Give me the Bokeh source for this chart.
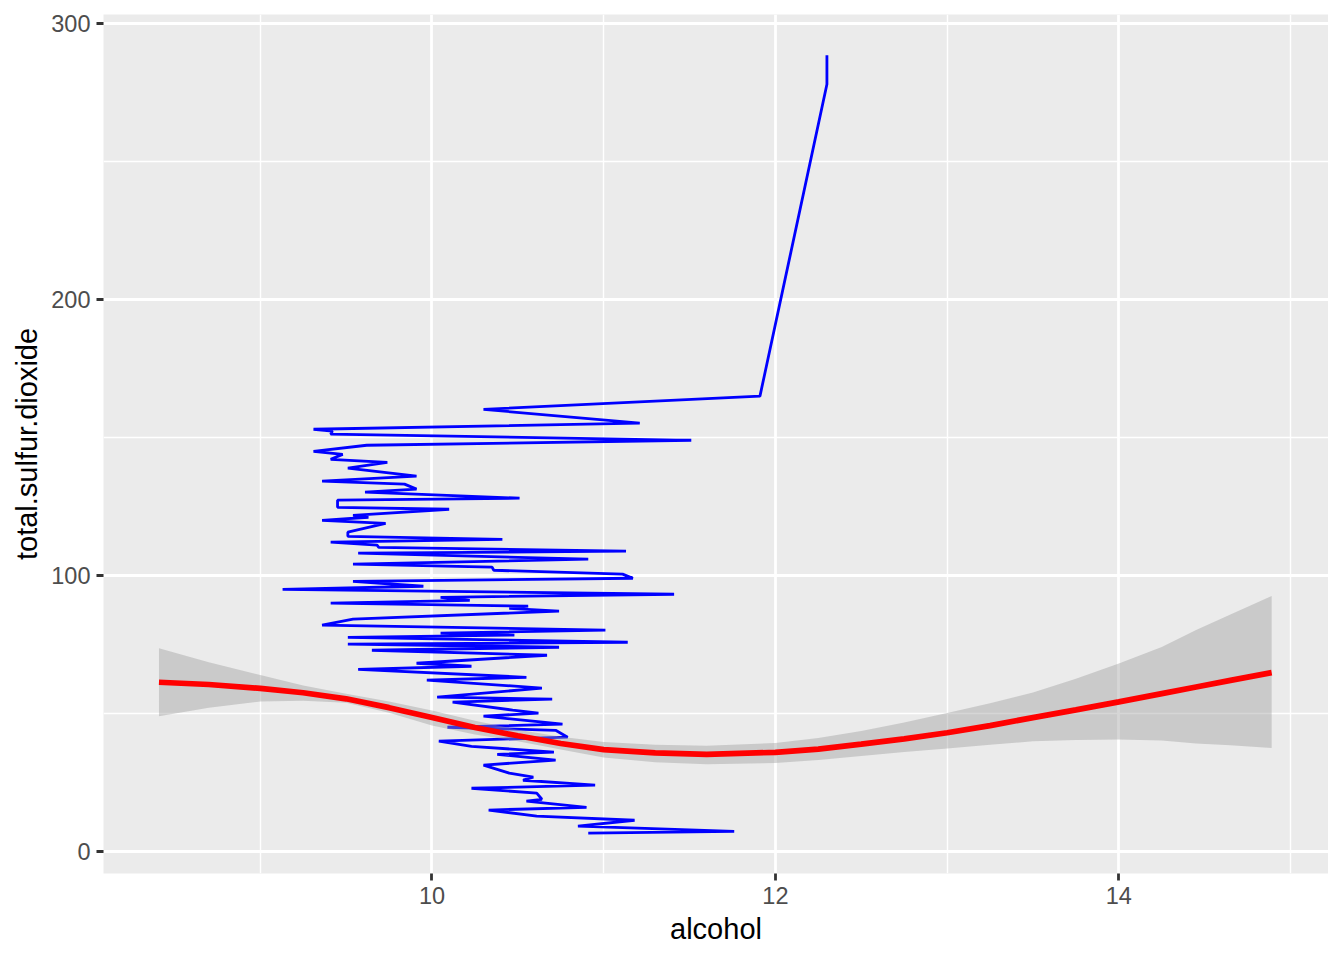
from bokeh.plotting import figure
from bokeh.models import Range1d, FixedTicker
from bokeh.embed import file_html
from bokeh.resources import INLINE

# Blue path (alcohol vs total.sulfur.dioxide), in drawing order
path_alcohol = [10.91, 11.76, 10.85, 11.18, 10.61, 10.33, 10.90, 10.55, 10.64, 10.61,
                10.23, 10.95, 10.53, 10.59, 10.45, 10.30, 10.72, 10.38, 10.71, 10.23,
                10.04, 10.79, 10.72, 10.09, 10.76, 10.30, 10.62, 10.47, 10.12, 10.70,
                10.03, 10.64, 9.97, 10.55, 9.57, 10.23, 9.91, 10.67, 9.65, 10.74,
                9.51, 11.14, 9.51, 10.48, 10.05, 11.01, 9.36, 9.54, 10.74, 10.45,
                10.56, 9.41, 10.22, 10.05, 11.41, 9.13, 9.95, 9.54, 11.17, 11.11,
                10.36, 10.35, 9.54, 10.91, 9.57, 11.13, 9.69, 9.68, 9.41, 10.41,
                9.51, 9.51, 9.73, 9.36, 9.63, 9.54, 10.10, 9.45, 9.45, 10.51,
                9.61, 9.91, 9.84, 9.36, 9.91, 9.51, 9.74, 9.41, 9.48, 9.31,
                9.62, 11.51, 9.41, 9.42, 9.31, 11.21, 10.30, 11.91, 12.30, 12.30]
path_so2 = [6.5, 7.2, 9.1, 11.2, 12.7, 14.9, 15.9, 18.1, 18.8, 21.0,
            22.8, 23.9, 25.7, 26.8, 28.3, 31.2, 33.0, 35.1, 35.9, 38.0,
            39.9, 41.3, 43.8, 44.9, 46.0, 48.9, 50.0, 51.1, 54.0, 55.1,
            55.8, 59.1, 62.0, 63.0, 65.9, 67.0, 68.1, 71.0, 72.8, 73.9,
            75.0, 75.7, 77.5, 78.3, 79.0, 80.1, 81.9, 84.1, 87.0, 88.0,
            88.8, 89.9, 90.9, 92.0, 93.1, 94.9, 96.0, 97.8, 98.9, 100.4,
            101.8, 102.9, 104.0, 105.8, 108.0, 108.7, 110.1, 110.9, 112.0, 113.0,
            114.1, 115.6, 118.8, 119.9, 121.0, 121.7, 123.9, 124.6, 127.2, 127.9,
            130.1, 131.2, 133.0, 134.1, 135.9, 138.8, 140.9, 142.0, 143.8, 144.9,
            147.1, 148.9, 151.1, 152.2, 152.9, 155.1, 160.1, 164.9, 277.9, 288.4]

# Loess smooth with confidence band
smooth_alcohol = [8.41, 8.7, 9.0, 9.25, 9.5, 9.75, 10.0, 10.25, 10.5, 10.75, 11.0, 11.3, 11.6,
                  12.0, 12.25, 12.5, 12.75, 13.0, 13.25, 13.5, 13.75, 14.0, 14.25, 14.45, 14.65, 14.89]
smooth_fit = [61.2, 60.4, 59.0, 57.4, 55.2, 52.0, 48.4, 44.8, 41.8, 39.0, 36.8, 35.6, 35.1,
              35.8, 37.0, 38.8, 40.7, 42.9, 45.5, 48.4, 51.2, 54.1, 57.1, 59.5, 61.9, 64.7]
smooth_upper = [73.5, 68.5, 63.8, 60.0, 57.0, 54.2, 51.0, 47.3, 44.0, 41.5, 39.6, 38.6, 38.2,
                39.2, 41.0, 43.5, 46.6, 50.1, 53.6, 57.5, 62.5, 68.0, 74.0, 80.1, 85.8, 92.5]
smooth_lower = [48.9, 52.0, 54.2, 54.5, 53.8, 50.2, 45.5, 42.3, 39.8, 36.8, 33.9, 32.2, 31.5,
                31.9, 33.0, 34.5, 35.9, 37.2, 38.6, 39.8, 40.3, 40.5, 40.1, 39.0, 38.4, 37.4]

x_ticks = [10, 12, 14]
x_minor = [9, 11, 13, 15]
y_ticks = [0, 100, 200, 300]
y_minor = [50, 150, 250]

FONT = "Liberation Sans"

p = figure(output_backend="svg", toolbar_location=None,
           x_range=Range1d(8.087, 15.221), y_range=Range1d(-8.1, 303.2),
           min_border_left=103, min_border_right=0, min_border_top=14, min_border_bottom=71)
p.frame_width = 1225
p.frame_height = 859

p.background_fill_color = "#EBEBEB"
p.border_fill_color = "white"
p.outline_line_color = None

p.xaxis.ticker = FixedTicker(ticks=x_ticks, minor_ticks=x_minor)
p.yaxis.ticker = FixedTicker(ticks=y_ticks, minor_ticks=y_minor)

for g in (p.xgrid, p.ygrid):
    g.grid_line_color = "white"
    g.grid_line_width = 2.8
    g.minor_grid_line_color = "white"
    g.minor_grid_line_width = 1.4

for ax in (p.xaxis, p.yaxis):
    ax.axis_line_color = None
    ax.major_tick_line_color = "#333333"
    ax.major_tick_line_width = 2.8
    ax.major_tick_out = 7
    ax.major_tick_in = 0
    ax.minor_tick_line_color = None
    ax.major_label_text_font = FONT
    ax.major_label_text_font_size = "23.5px"
    ax.major_label_text_color = "#4D4D4D"
    ax.axis_label_text_font = FONT
    ax.axis_label_text_font_size = "29px"
    ax.axis_label_text_font_style = "normal"
    ax.axis_label_text_color = "black"

p.xaxis.axis_label = "alcohol"
p.yaxis.axis_label = "total.sulfur.dioxide"
p.xaxis.major_label_standoff = 6
p.yaxis.major_label_standoff = 6
p.xaxis.axis_label_standoff = 6
p.yaxis.axis_label_standoff = 5

p.line(path_alcohol, path_so2, line_color="blue", line_width=2.8)
p.varea(x=smooth_alcohol, y1=smooth_lower, y2=smooth_upper, fill_color="#999999", fill_alpha=0.4)
p.line(smooth_alcohol, smooth_fit, line_color="red", line_width=5.7)

open("out.html", "w").write(file_html(p, INLINE))
